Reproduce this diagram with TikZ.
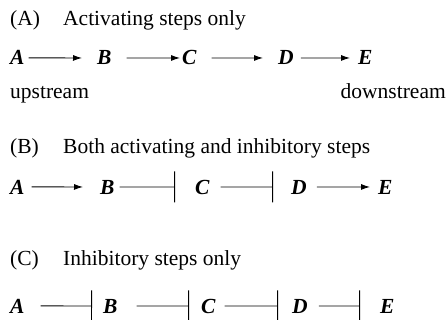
\documentclass[tikz,border=0pt]{standalone}
\usepackage{fontspec}
\setmainfont{Liberation Serif}
\usetikzlibrary{arrows.meta}
\begin{document}
\begin{tikzpicture}[x=1pt,y=-1pt,
        txt/.style={anchor=base west,inner sep=0pt,font=\fontsize{21.5}{24}\selectfont},
        gene/.style={anchor=base west,inner sep=0pt,font=\fontsize{21.5}{24}\selectfont\bfseries\itshape},
        act/.style={-{Latex[length=9pt,width=6pt]},line width=0.9pt},
        inh/.style={-{Bar[width=31pt,line width=0.9pt]},line width=0.9pt}]
    \useasboundingbox (0,0) rectangle (446,320);

    \node[txt] (tA) at (10,26) {(A)};
    \node[txt] (hA) at (63,26) {Activating steps only};
    \node[gene] (A1) at (10,65) {A};
    \node[gene] (B1) at (97,65) {B};
    \node[gene] (C1) at (182,65) {C};
    \node[gene] (D1) at (278,65) {D};
    \node[gene] (E1) at (358,65) {E};
    \draw[act,shorten <=4pt,shorten >=15pt] (A1) -- (B1);
    \draw[act,shorten <=15pt,shorten >=2pt] (B1) -- (C1);
    \draw[act,shorten <=15pt,shorten >=15pt] (C1) -- (D1);
    \draw[act,shorten <=7pt,shorten >=8pt] (D1) -- (E1);
    \node[txt] (up) at (10,99) {upstream};
    \node[txt,anchor=base east] (down) at (446,99) {downstream};

    \node[txt] (tB) at (10,154) {(B)};
    \node[txt] (hB) at (63,154) {Both activating and inhibitory steps};
    \node[gene] (A2) at (10,194) {A};
    \node[gene] (B2) at (100,194) {B};
    \node[gene] (C2) at (195,194) {C};
    \node[gene] (D2) at (291,194) {D};
    \node[gene] (E2) at (378,194) {E};
    \draw[act,shorten <=7pt,shorten >=17pt] (A2) -- (B2);
    \draw[inh,shorten <=5pt,shorten >=20pt] (B2) -- (C2);
    \draw[inh,shorten <=11pt,shorten >=18pt] (C2) -- (D2);
    \draw[act,shorten <=10pt,shorten >=8pt] (D2) -- (E2);

    \node[txt] (tC) at (10,265) {(C)};
    \node[txt] (hC) at (63,265) {Inhibitory steps only};
    \node[gene] (A3) at (10,313) {A};
    \node[gene] (B3) at (103,313) {B};
    \node[gene] (C3) at (201,313) {C};
    \node[gene] (D3) at (292,313) {D};
    \node[gene] (E3) at (380,313) {E};
    \draw[inh,shorten <=16pt,shorten >=11pt] (A3) -- (B3);
    \draw[inh,shorten <=19pt,shorten >=12pt] (B3) -- (C3);
    \draw[inh,shorten <=9pt,shorten >=14pt] (C3) -- (D3);
    \draw[inh,shorten <=11pt,shorten >=20pt] (D3) -- (E3);
\end{tikzpicture}
\end{document}
